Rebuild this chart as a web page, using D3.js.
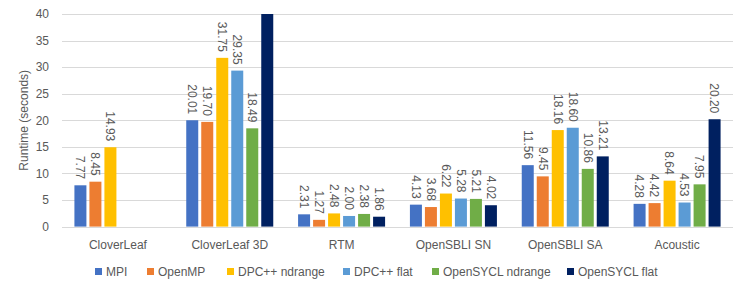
<!DOCTYPE html>
<html>
<head>
<meta charset="utf-8">
<script src="https://cdn.jsdelivr.net/npm/d3@7"></script>
<style>
  body { margin: 0; background: #fff; }
  text { font-family: "Liberation Sans", Arial, sans-serif; fill: #595959; }
</style>
</head>
<body>
<div id="chart"></div>
<script>
var categories = ["CloverLeaf", "CloverLeaf 3D", "RTM", "OpenSBLI SN", "OpenSBLI SA", "Acoustic"];
var seriesNames = ["MPI", "OpenMP", "DPC++ ndrange", "DPC++ flat", "OpenSYCL ndrange", "OpenSYCL flat"];
var colors = ["#4472C4", "#ED7D31", "#FFC000", "#5B9BD5", "#70AD47", "#002060"];
// one array per series, in category order (null = no bar)
var mpi = [7.77, 20.01, 2.31, 4.13, 11.56, 4.28];
var openmp = [8.45, 19.70, 1.27, 3.68, 9.45, 4.42];
var dpcNdrange = [14.93, 31.75, 2.48, 6.22, 18.16, 8.64];
var dpcFlat = [null, 29.35, 2.00, 5.28, 18.60, 4.53];
var syclNdrange = [null, 18.49, 2.38, 5.21, 10.86, 7.95];
var syclFlat = [null, 45.00, 1.86, 4.02, 13.21, 20.20]; // CloverLeaf 3D goes off the top
var yTicks = [0, 5, 10, 15, 20, 25, 30, 35, 40];

var series = [mpi, openmp, dpcNdrange, dpcFlat, syclNdrange, syclFlat];

var width = 747, height = 291;
var plotLeft = 62, plotRight = 733, plotTop = 14, plotBottom = 226.6;

var svg = d3.select("#chart").append("svg")
  .attr("width", width)
  .attr("height", height);

var x0 = d3.scaleBand()
  .domain(categories)
  .range([plotLeft, plotRight])
  .paddingInner(0.222)
  .paddingOuter(0.111);

var x1 = d3.scaleBand()
  .domain(d3.range(seriesNames.length))
  .range([0, x0.bandwidth()])
  .paddingInner(0.2);

var y = d3.scaleLinear().domain([0, 40]).range([plotBottom, plotTop]);

// gridlines
svg.append("g").selectAll("line")
  .data(yTicks)
  .enter().append("line")
  .attr("x1", plotLeft).attr("x2", plotRight)
  .attr("y1", function(d) { return Math.round(y(d)) + 0.5; })
  .attr("y2", function(d) { return Math.round(y(d)) + 0.5; })
  .style("stroke", "#d9d9d9")
  .style("stroke-width", 1);

// y tick labels
svg.append("g").selectAll("text")
  .data(yTicks)
  .enter().append("text")
  .attr("x", 49)
  .attr("y", function(d) { return y(d); })
  .attr("dy", "0.35em")
  .attr("text-anchor", "end")
  .style("font-size", "12px")
  .text(function(d) { return d; });

// y axis title
svg.append("text")
  .attr("transform", "translate(28," + ((plotTop + plotBottom) / 2) + ") rotate(-90)")
  .attr("text-anchor", "middle")
  .style("font-size", "12px")
  .text("Runtime (seconds)");

// bars
var bars = [];
series.forEach(function(vals, si) {
  vals.forEach(function(v, ci) {
    if (v !== null) bars.push({ s: si, c: categories[ci], v: v });
  });
});

svg.append("g").selectAll("rect")
  .data(bars)
  .enter().append("rect")
  .attr("x", function(d) { return x0(d.c) + x1(d.s); })
  .attr("width", x1.bandwidth())
  .attr("y", function(d) { return y(Math.min(d.v, 40)); })
  .attr("height", function(d) { return plotBottom - y(Math.min(d.v, 40)); })
  .style("fill", function(d) { return colors[d.s]; });

// data labels, rotated, only for bars within the axis range
svg.append("g").selectAll("text")
  .data(bars.filter(function(d) { return d.v <= 40; }))
  .enter().append("text")
  .attr("transform", function(d) {
    var cx = x0(d.c) + x1(d.s) + x1.bandwidth() / 2;
    return "translate(" + cx + "," + (y(d.v) - 6) + ") rotate(90)";
  })
  .attr("text-anchor", "end")
  .attr("dy", "0.35em")
  .style("font-size", "12px")
  .text(function(d) { return d.v.toFixed(2); });

// category labels
svg.append("g").selectAll("text")
  .data(categories)
  .enter().append("text")
  .attr("x", function(d) { return x0(d) + x0.bandwidth() / 2; })
  .attr("y", 249)
  .attr("text-anchor", "middle")
  .style("font-size", "12px")
  .text(function(d) { return d; });

// legend
var legendX = [95, 147, 227, 343, 432, 567];
var legend = svg.append("g").selectAll("g")
  .data(seriesNames)
  .enter().append("g")
  .attr("transform", function(d, i) { return "translate(" + legendX[i] + ",268)"; });

legend.append("rect")
  .attr("width", 7).attr("height", 7)
  .style("fill", function(d, i) { return colors[i]; });

legend.append("text")
  .attr("x", 11)
  .attr("y", 3.5)
  .attr("dy", "0.35em")
  .style("font-size", "12px")
  .text(function(d) { return d; });
</script>
</body>
</html>
